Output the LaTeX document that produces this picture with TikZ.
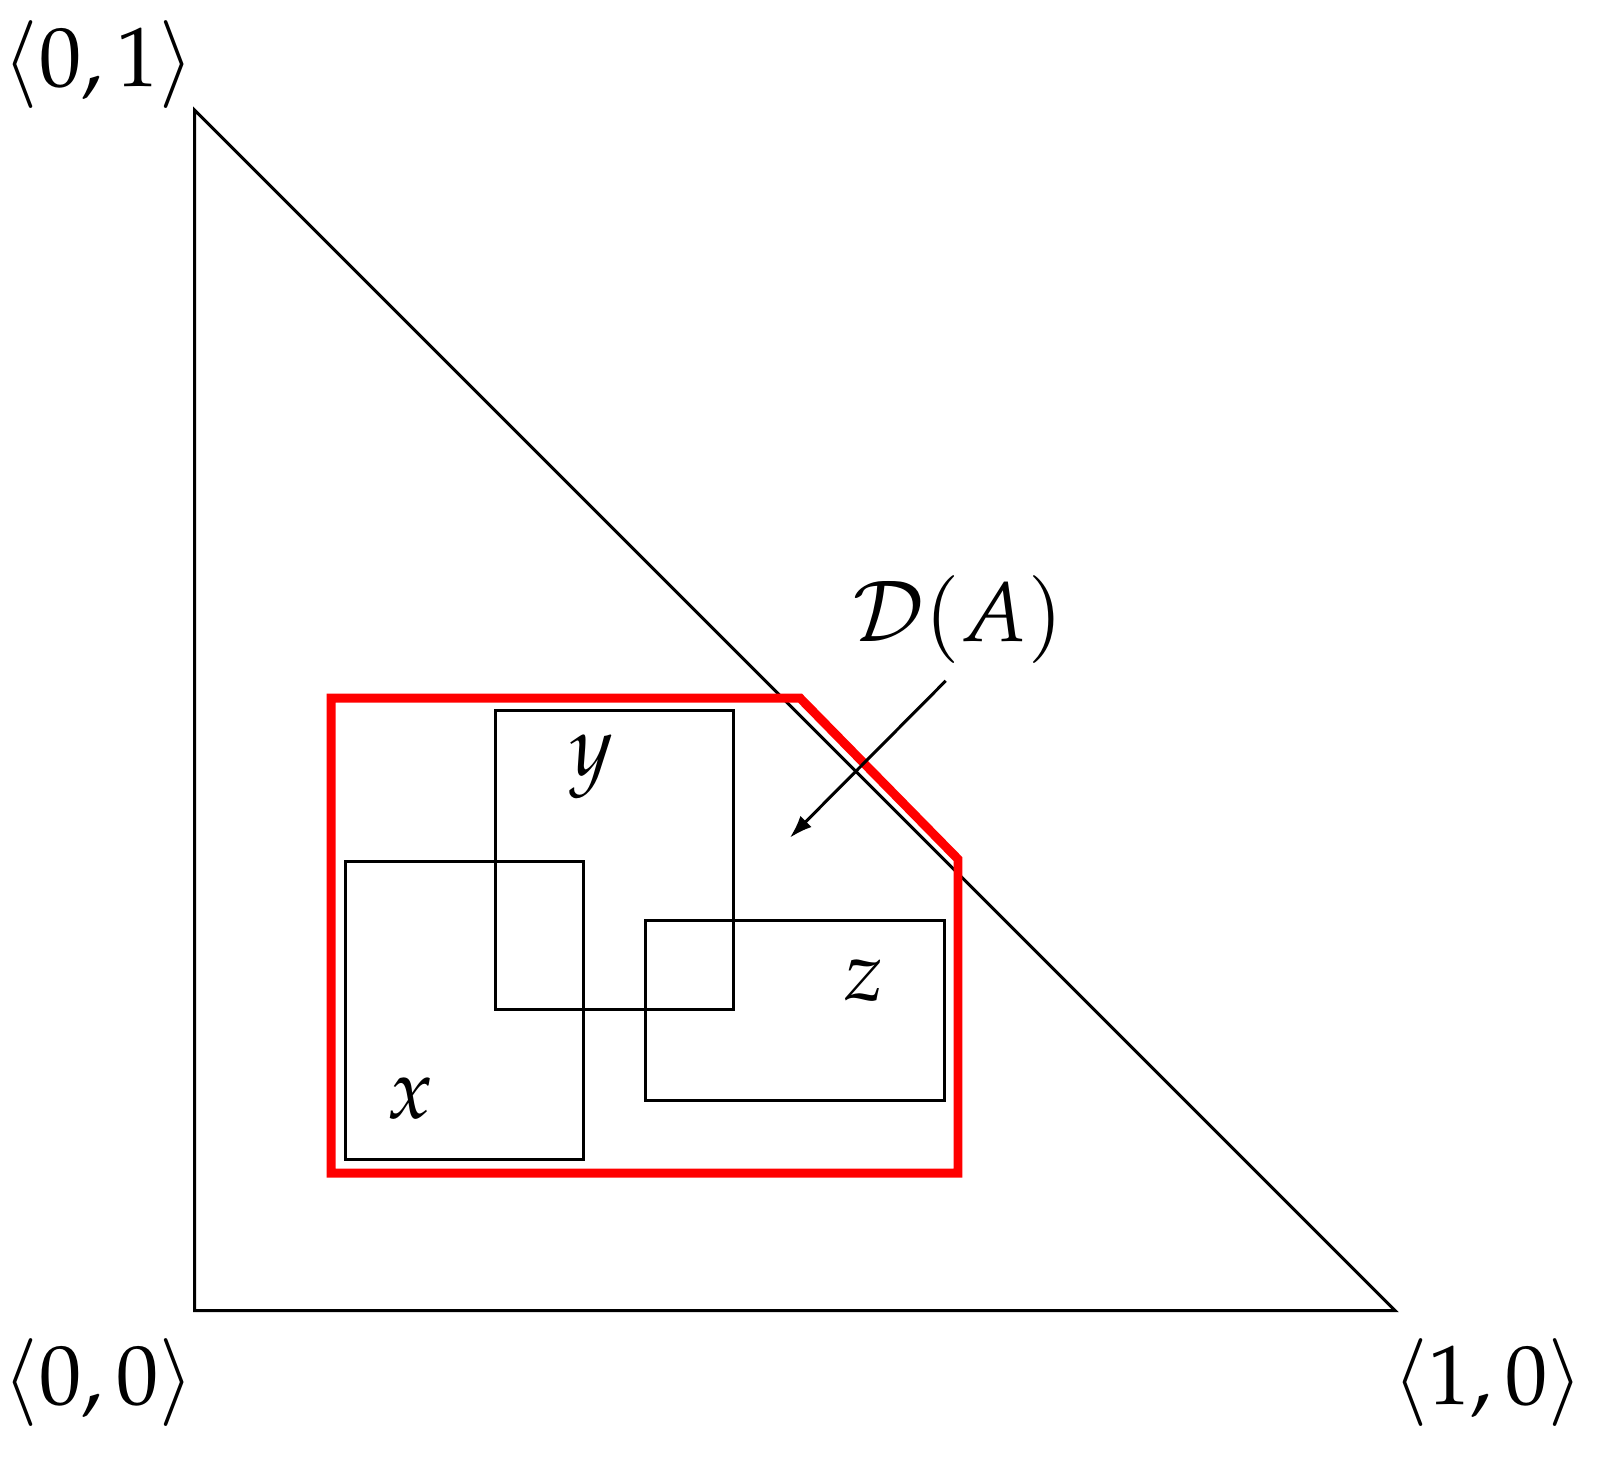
\documentclass[tikz,border=0pt]{standalone}
\usepackage{mathpazo}
\usepackage{tikz}
\usetikzlibrary{arrows.meta,arrows}

\begin{document}
\begin{tikzpicture}[x=0.010191cm,y=-0.010191cm]

\tikzset{corner/.style = {font=\fontsize{24}{28}\selectfont,inner sep=0pt}}
\tikzset{lab/.style = {font=\fontsize{24}{28}\selectfont,inner sep=0pt}}
\tikzset{box/.style = {draw,line width=0.85pt}}
\tikzset{edge/.style = {-{Latex[length=6.5pt,width=4.5pt]},line width=0.85pt}}

\useasboundingbox (0,0) rectangle (1568,1430);

\coordinate (o) at (191,1286);
\coordinate (t) at (191,108);
\coordinate (r) at (1369,1286);
\draw[box] (t) -- (o) -- (r) -- cycle;

\node[corner] (lo) at (97,1356) {$\langle 0,0\rangle$};
\node[corner] (lt) at (97,63) {$\langle 0,1\rangle$};
\node[corner] (lr) at (1460,1356) {$\langle 1,0\rangle$};

\draw[red,line width=2.55pt] (325,1151) -- (325,685) -- (785,685) -- (940,843) -- (940,1151) -- cycle;

\draw[box] (339,845) rectangle (573,1138);
\draw[box] (486,697) rectangle (720,991);
\draw[box] (633,903) rectangle (927,1080);

\node[lab] (x) at (403,1078) {$x$};
\node[lab] (y) at (580,752) {$y$};
\node[lab] (z) at (848,962) {$z$};

\node[lab] (d) at (940,608) {$\mathcal{D}(A)$};
\coordinate (dend) at (775,822);
\draw[edge] (928,668) -- (dend);

\end{tikzpicture}
\end{document}
